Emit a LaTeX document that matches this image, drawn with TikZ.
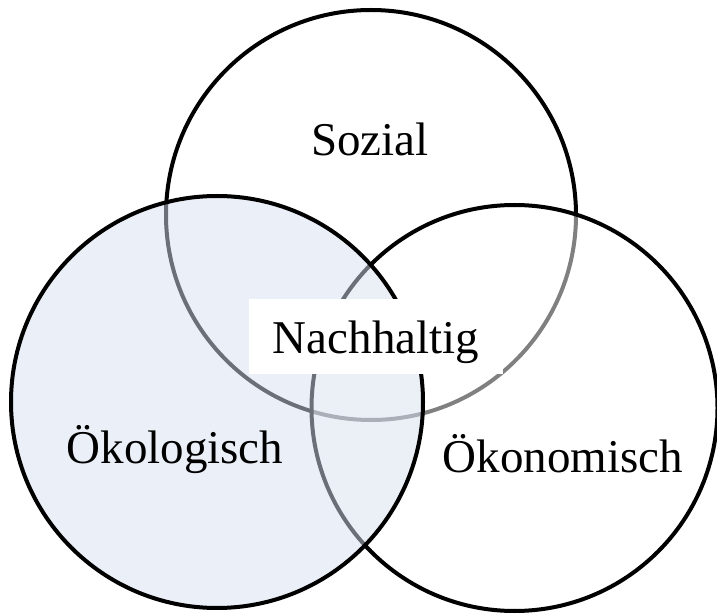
\documentclass[tikz,border=0pt]{standalone}
\usepackage{fontspec}
\setmainfont{Liberation Serif}
\definecolor{oekoblue}{RGB}{215,225,241}
\tikzset{
  ring/.style={draw=black, line width=2pt},
  venntext/.style={font=\fontsize{23.5}{28}\selectfont, anchor=base, inner sep=0pt}
}
\begin{document}
\begin{tikzpicture}[x=0.5pt, y=-0.5pt]

        \useasboundingbox (0,0) rectangle (717,614);

        % Sozial circle
        \draw[ring] (371,215) circle[radius=102.5pt];

        % Oekonomisch circle (half transparent white)
        \draw[ring, fill=white, fill opacity=0.5] (514.5,408) circle[radius=101.5pt];

        % Oekologisch circle (light blue)
        \draw[ring, fill=oekoblue, fill opacity=0.5] (217,402) circle[radius=103pt];

        % Labels
        \node[venntext] (sozial) at (370,156) {Sozial};
        \node[venntext] (oekologisch) at (175,463) {Ökologisch};
        \node[venntext] (oekonomisch) at (563,472) {Ökonomisch};

        % Centre with white box
        \node[venntext, fill=white, text height=27.25pt, text depth=10pt,
              minimum width=127pt] (nachhaltig) at (376,354) {Nachhaltig};

\end{tikzpicture}
\end{document}
